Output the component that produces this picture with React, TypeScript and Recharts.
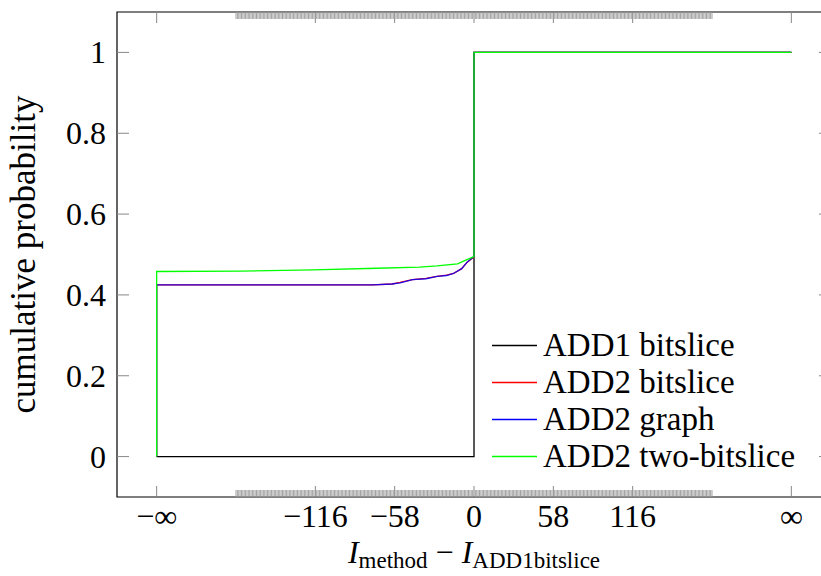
import { LineChart, Line, XAxis, YAxis, Legend, ReferenceArea } from 'recharts';

const FONT = '"Liberation Serif", "DejaVu Serif", serif';

// layout of the plot box (pixels inside the svg)
const CHART_W = 840;
const CHART_H = 576;
const PLOT_TOP = 12;
const PLOT_BOTTOM = 497;
const PLOT_LEFT = 117;
const PLOT_RIGHT = 831;

// x axis: -inf / +inf are drawn at +-232
const xDomain = [-261, 261];
const xMajorTicks = [-232, -116, -58, 0, 58, 116, 232];
const xTickLabels = ['−∞', '−116', '−58', '0', '58', '116', '∞'];
const xMinorRange = [-174, 174];

const yDomain = [-0.1, 1.1];
const yTicks = [0, 0.2, 0.4, 0.6, 0.8, 1];
const yTickLabels = ['0', '0.2', '0.4', '0.6', '0.8', '1'];

const seriesNames = ['ADD1 bitslice', 'ADD2 bitslice', 'ADD2 graph', 'ADD2 two-bitslice'];
const seriesColors = ['#000000', '#ff0000', '#0000ff', '#00ff00'];

const add1Bitslice = [
  { x: -232, y: 0 },
  { x: 0, y: 0 },
  { x: 0, y: 1 },
  { x: 232, y: 1 },
];

const add2Bitslice = [
  { x: -232, y: 0 },
  { x: -232, y: 0.425 },
  { x: -74, y: 0.425 },
  { x: -60, y: 0.427 },
  { x: -54, y: 0.431 },
  { x: -45, y: 0.438 },
  { x: -35, y: 0.441 },
  { x: -27, y: 0.446 },
  { x: -20, y: 0.449 },
  { x: -15, y: 0.453 },
  { x: -9, y: 0.465 },
  { x: -5, y: 0.481 },
  { x: 0, y: 0.494 },
  { x: 0, y: 1 },
  { x: 232, y: 1 },
];

const add2Graph = [
  { x: -232, y: 0 },
  { x: -232, y: 0.425 },
  { x: -74, y: 0.425 },
  { x: -60, y: 0.427 },
  { x: -54, y: 0.43 },
  { x: -45, y: 0.438 },
  { x: -35, y: 0.44 },
  { x: -27, y: 0.446 },
  { x: -20, y: 0.448 },
  { x: -15, y: 0.453 },
  { x: -9, y: 0.465 },
  { x: -5, y: 0.481 },
  { x: 0, y: 0.495 },
  { x: 0, y: 1 },
  { x: 232, y: 1 },
];

const add2TwoBitslice = [
  { x: -232, y: 0 },
  { x: -232, y: 0.458 },
  { x: -170, y: 0.459 },
  { x: -118, y: 0.462 },
  { x: -71, y: 0.466 },
  { x: -40, y: 0.469 },
  { x: -27, y: 0.472 },
  { x: -12, y: 0.477 },
  { x: -6, y: 0.486 },
  { x: 0, y: 0.495 },
  { x: 0, y: 1 },
  { x: 232, y: 1 },
];

const seriesData = [add1Bitslice, add2Bitslice, add2Graph, add2TwoBitslice];

// dense minor ticks at every integer, plus the major ones
const xAllTicks = Array.from(
  { length: xMinorRange[1] - xMinorRange[0] + 1 },
  (_, i) => xMinorRange[0] + i,
)
  .concat(xMajorTicks)
  .filter((v, i, arr) => arr.indexOf(v) === i)
  .sort((a, b) => a - b);

function XTick(props: any) {
  const { x, payload } = props;
  const idx = xMajorTicks.indexOf(payload.value);
  if (idx < 0) {
    return (
      <g>
        <line x1={x} x2={x} y1={PLOT_TOP} y2={PLOT_TOP + 7} stroke="#999" strokeWidth={0.9} />
        <line x1={x} x2={x} y1={PLOT_BOTTOM} y2={PLOT_BOTTOM - 7} stroke="#999" strokeWidth={0.9} />
      </g>
    );
  }
  return (
    <g>
      <line x1={x} x2={x} y1={PLOT_TOP} y2={PLOT_TOP + 11} stroke="#888" strokeWidth={1} />
      <line x1={x} x2={x} y1={PLOT_BOTTOM} y2={PLOT_BOTTOM - 11} stroke="#888" strokeWidth={1} />
      <text x={x} y={527} textAnchor="middle" fontFamily={FONT} fontSize={32} fill="#000">
        {xTickLabels[idx]}
      </text>
    </g>
  );
}

function YTick(props: any) {
  const { y, payload } = props;
  const idx = yTicks.indexOf(payload.value);
  return (
    <g>
      <line x1={PLOT_LEFT} x2={PLOT_LEFT + 12} y1={y} y2={y} stroke="#888" strokeWidth={1} />
      <line x1={PLOT_RIGHT} x2={PLOT_RIGHT - 12} y1={y} y2={y} stroke="#888" strokeWidth={1} />
      <text x={106} y={y + 11} textAnchor="end" fontFamily={FONT} fontSize={32} fill="#000">
        {yTickLabels[idx]}
      </text>
    </g>
  );
}

function XLabel() {
  const cx = (PLOT_LEFT + PLOT_RIGHT) / 2;
  return (
    <text x={cx} y={563} textAnchor="middle" fontFamily={FONT} fontSize={32} fill="#000">
      <tspan fontStyle="italic">I</tspan>
      <tspan fontSize={23} dy={5}>method</tspan>
      <tspan dy={-5}> − </tspan>
      <tspan fontStyle="italic">I</tspan>
      <tspan fontSize={23} dy={5}>ADD1bitslice</tspan>
    </text>
  );
}

function YLabel() {
  const cy = (PLOT_TOP + PLOT_BOTTOM) / 2;
  return (
    <text
      x={35}
      y={cy}
      transform={`rotate(-90, 35, ${cy})`}
      textAnchor="middle"
      fontFamily={FONT}
      fontSize={35}
      fill="#000"
    >
      cumulative probability
    </text>
  );
}

function LegendBox() {
  return (
    <div style={{ fontFamily: FONT, fontSize: 33, color: '#000', lineHeight: '37px' }}>
      {seriesNames.map((name, i) => (
        <div key={name} style={{ display: 'flex', alignItems: 'center', height: 37, whiteSpace: 'nowrap' }}>
          <svg width={55} height={37} style={{ flex: 'none' }}>
            <line x1={4} x2={49} y1={18.5} y2={18.5} stroke={seriesColors[i]} strokeWidth={1.3} />
          </svg>
          <span>{name}</span>
        </div>
      ))}
    </div>
  );
}

export default function App() {
  return (
    <div style={{ position: 'absolute', left: 0, top: 0, width: 821, height: 576, overflow: 'hidden', background: '#fff' }}>
      <LineChart
        width={CHART_W}
        height={CHART_H}
        margin={{ top: PLOT_TOP, right: CHART_W - PLOT_RIGHT, bottom: 0, left: 0 }}
      >
        <XAxis
          dataKey="x"
          type="number"
          domain={xDomain}
          allowDataOverflow
          ticks={xAllTicks}
          interval={0}
          tick={<XTick />}
          tickLine={false}
          axisLine={false}
          height={CHART_H - PLOT_BOTTOM}
          label={<XLabel />}
        />
        <YAxis
          type="number"
          domain={yDomain}
          allowDataOverflow
          ticks={yTicks}
          interval={0}
          tick={<YTick />}
          tickLine={false}
          axisLine={false}
          width={PLOT_LEFT}
          label={<YLabel />}
        />
        {seriesData.map((d, i) => (
          <Line
            key={seriesNames[i]}
            data={d}
            dataKey="y"
            name={seriesNames[i]}
            type="linear"
            stroke={seriesColors[i]}
            strokeWidth={1.3}
            strokeOpacity={i === 2 ? 0.85 : 1}
            dot={false}
            activeDot={false}
            isAnimationActive={false}
          />
        ))}
        <ReferenceArea
          x1={xDomain[0]}
          x2={xDomain[1]}
          y1={yDomain[0]}
          y2={yDomain[1]}
          fill="none"
          stroke="#000"
          strokeWidth={1.2}
          ifOverflow="visible"
        />
        <Legend
          layout="vertical"
          align="center"
          verticalAlign="middle"
          content={<LegendBox />}
          wrapperStyle={{ position: 'absolute', left: 488, top: 327, width: 330 }}
        />
      </LineChart>
    </div>
  );
}
